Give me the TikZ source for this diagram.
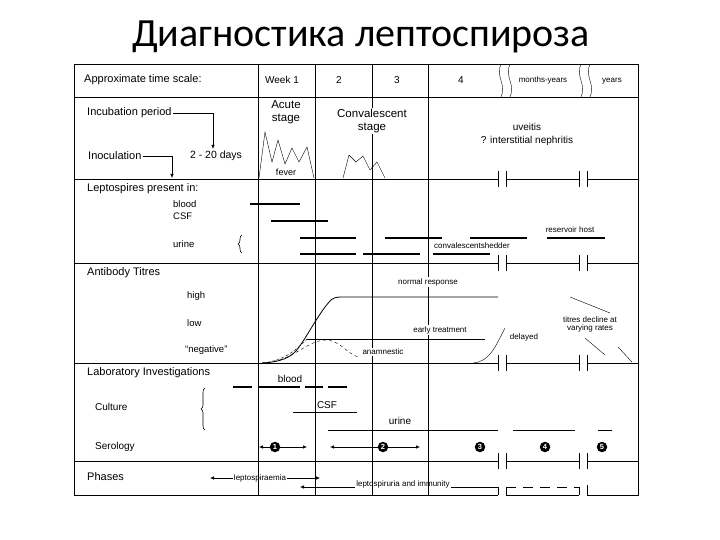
\documentclass[tikz,border=0pt]{standalone}
\usepackage{fontspec}
\setmainfont{Liberation Sans}
\newfontfamily\titlefont{Carlito}
\usetikzlibrary{arrows.meta,decorations.pathreplacing}
\newcommand{\fs}[1]{\fontsize{#1}{#1}\selectfont}

\begin{document}
\begin{tikzpicture}[x=1pt,y=-1pt,
    head/.style={font=\fs{11},inner sep=0pt,anchor=west},
    sub/.style={font=\fs{9.5},inner sep=0pt,anchor=west},
    lab/.style={font=\fs{8},inner sep=1pt},
    mid/.style={font=\fs{10},inner sep=1pt},
    rule/.style={line width=0.9pt},
    bar/.style={line width=1.3pt},
    curly/.style={decorate,decoration={brace,amplitude=4pt},line width=0.6pt},
    num/.style={circle,fill=black,text=white,inner sep=0pt,minimum size=10.5pt,font=\fs{7.5}\bfseries},
    arr/.style={-{Latex[length=4pt,width=3.5pt]},line width=0.6pt}]
    \useasboundingbox (0,0) rectangle (720,540);
    \node[font=\titlefont\fs{40}](title)at(361,37){Диагностика лептоспироза};
    \draw[rule] (498,495) -- (74,495) -- (74,64) -- (638,64) -- (638,495) -- (587,495);
    \draw[rule] (506,495) -- (579,495);
    \draw[rule] (74,97) -- (638,97);
    \foreach \y in {179,263,363,461}{
        \draw[rule] (74,\y) -- (498,\y) (506,\y) -- (579,\y) (587,\y) -- (638,\y);
        \foreach \x in {498,506,579,587}
            \draw[rule] (\x,\y-8) -- (\x,\y+8);
    }
    \foreach \x in {258,315,372,428}
        \draw[rule] (\x,64) -- (\x,495);
    \foreach \x in {501,510,581,590}
        \draw (\x,64) .. controls (\x-6,76) and (\x+6,85) .. (\x,97);
    \node[head](scale)at(84,80){Approximate time scale:};
    \node[mid](wk1)at(282,80){Week 1};
    \node[mid](wk2)at(339,80){2};
    \node[mid](wk3)at(397,80){3};
    \node[mid](wk4)at(461,80){4};
    \node[lab,anchor=base](months)at(543,83){months-years};
    \node[lab,anchor=base](years)at(612,83){years};
    \node[head](incub)at(87,113){Incubation period};
    \node[head](inoc)at(88,156){Inoculation};
    \node[mid,font=\fs{10.5},inner sep=2pt](days)at(216,156){2 - 20 days};
    \coordinate (inocend) at (172,178);
    \draw[arr] ([xshift=1pt]incub.east) -| ([xshift=-3pt]days.north);
    \draw[arr] ([xshift=1pt]inoc.east) -| (inocend);
    \draw (259,178) -- (265,132) -- (272,162) -- (278,140) -- (285,164) -- (292,148) -- (299,162) -- (307,147) -- (314,178);
    \draw (343,178) -- (349,155) -- (356,162) -- (363,156) -- (370,170) -- (377,162) -- (385,178);
    \node[font=\fontsize{11.5}{13.5}\selectfont,align=center,inner sep=1pt](acute)at(286,112){Acute\\stage};
    \node[font=\fontsize{11.5}{13.5}\selectfont,align=center,inner sep=1pt,fill=white](conv)at(372,121){Convalescent\\stage};
    \node[font=\fontsize{10}{13}\selectfont,align=center](uveitis)at(527,134){uveitis\\? interstitial nephritis};
    \node[lab,font=\fs{9}](fever)at(286,172){fever};
    \node[head](lepto)at(87,189){Leptospires present in:};
    \node[sub](blood)at(173,204){blood};
    \node[sub](csf)at(173,216){CSF};
    \node[sub](urine)at(173,244){urine};
    \draw[curly] (242,253) -- (242,235);
    \draw[bar] (250,204) -- (300,204);
    \draw[bar] (271,221) -- (328,221);
    \draw[bar] (300,238) -- (356,238) (385,238) -- (442,238) (470,238) -- (527,238) (547,238) -- (605,238);
    \draw[bar] (300,254) -- (356,254) (363,254) -- (420,254) (433,254) -- (490,254);
    \node[lab](reservoir)at(570,230){reservoir host};
    \node[lab](shedder)at(472,246){convalescentshedder};
    \node[head](titres)at(87,273){Antibody Titres};
    \node[sub](high)at(187,296){high};
    \node[sub](low)at(187,323){low};
    \node[sub](neg)at(185,350){“negative”};
    \draw[line width=0.8pt] (262,363) .. controls (282,362) and (290,357) .. (296,351) .. controls (306,339) and (318,314) .. (330,301) .. controls (333,298) and (336,297) .. (341,297) -- (498,297);
    \draw[line width=0.8pt] (307,339) -- (485,339);
    \draw[densely dashed] (262,363) .. controls (285,361) and (298,348) .. (307,339);
    \draw[dashed] (262,363) .. controls (292,362) and (306,341) .. (325,340) .. controls (340,340) and (346,353) .. (358,357);
    \draw (473,363) .. controls (490,362) and (496,345) .. (505,328);
    \draw (570,297) -- (610,313);
    \draw (585,338) -- (605,355);
    \draw (618,347) -- (632,362);
    \node[lab,fill=white](normal)at(428,282){normal response};
    \node[lab,fill=white](early)at(440,330){early treatment};
    \node[lab,fill=white](anam)at(383,352){anamnestic};
    \node[lab](delayed)at(524,337){delayed};
    \node[lab,align=center](decline)at(590,324){titres decline at\\varying rates};
    \node[head](labinv)at(87,373){Laboratory Investigations};
    \node[mid,anchor=west,inner sep=0pt](culture)at(95,407){Culture};
    \node[mid,anchor=west,inner sep=0pt](serology)at(95,447){Serology};
    \draw[curly] (205,430) -- (205,388);
    \draw[bar] (233,387) -- (252,387) (258,387) -- (300,387) (305,387) -- (323,387) (328,387) -- (347,387);
    \draw (293,412) -- (357,412);
    \draw (328,430) -- (498,430) (513,430) -- (575,430) (598,430) -- (612,430);
    \node[mid](cblood)at(290,379){blood};
    \node[mid](ccsf)at(327,405){CSF};
    \node[mid](curine)at(400,421){urine};
    \node[num](s1)at(275,447){1};
    \node[num](s2)at(383,447){2};
    \node[num](s3)at(480,447){3};
    \node[num](s4)at(545,447){4};
    \node[num](s5)at(602,447){5};
    \draw[arr] (s1) -- (259,447);
    \draw[arr] (s1) -- (307,447);
    \draw[arr] (s2) -- (330,447);
    \draw[arr] (s2) -- (420,447);
    \node[head](phases)at(87,477){Phases};
    \node[lab](lspz)at(260,478){leptospiraemia};
    \draw[arr] (lspz) -- (210,478);
    \draw[arr] (lspz) -- (320,478);
    \node[lab](lspu)at(403,484){leptospiruria and immunity};
    \draw[arr] ([yshift=-3pt]lspu.west) -- (300,487);
    \draw ([yshift=-3pt]lspu.east) -- (498,487) -- (498,495);
    \draw (506,495) -- (506,487);
    \draw[dash pattern=on 10pt off 7pt] (506,487) -- (579,487);
    \draw (579,487) -- (579,495);
    \draw (587,495) -- (587,485);
\end{tikzpicture}
\end{document}
